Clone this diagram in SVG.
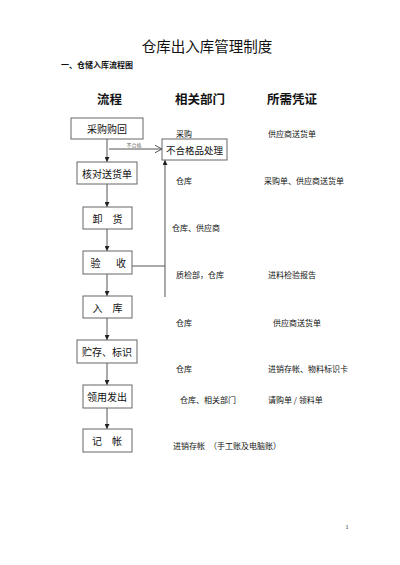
<svg xmlns="http://www.w3.org/2000/svg" width="400" height="565" viewBox="0 0 400 565">
<style>
text{font-family:"Noto Sans CJK SC","Noto Sans",sans-serif;fill:#111}
.box{fill:#fff;stroke:#666;stroke-width:1}
.bt{font-size:10px;text-anchor:middle;dominant-baseline:central}
.rt{font-size:8px;dominant-baseline:central}
.hd{font-size:12.5px;font-weight:bold}
.ln{stroke:#555;stroke-width:1;fill:none}
</style>
<defs>
<marker id="ah" viewBox="0 0 6 6" refX="6" refY="3" markerWidth="5" markerHeight="5" orient="auto" markerUnits="userSpaceOnUse">
<path d="M0,0 L6,3 L0,6 Z" fill="#222"/>
</marker>
<marker id="oa" viewBox="0 0 8 8" refX="7.5" refY="4" markerWidth="8" markerHeight="8" orient="auto" markerUnits="userSpaceOnUse">
<path d="M0,0 L7.5,4 L0,8" fill="none" stroke="#555" stroke-width="1"/>
</marker>
</defs>
<rect width="400" height="565" fill="#fff"/>
<text x="207" y="52" font-size="14.5" text-anchor="middle">仓库出入库管理制度</text>
<text x="61" y="68" font-size="8" font-weight="bold">一、仓储入库流程图</text>
<text class="hd" x="97" y="104">流程</text>
<text class="hd" x="175" y="104">相关部门</text>
<text class="hd" x="267" y="104">所需凭证</text>

<g id="connectors">
<line class="ln" x1="107" y1="139" x2="107" y2="162" marker-end="url(#ah)"/>
<line class="ln" x1="107" y1="184" x2="107" y2="207" marker-end="url(#ah)"/>
<line class="ln" x1="107" y1="229" x2="107" y2="251" marker-end="url(#ah)"/>
<line class="ln" x1="107" y1="274" x2="107" y2="296" marker-end="url(#ah)"/>
<line class="ln" x1="107" y1="318" x2="107" y2="340" marker-end="url(#ah)"/>
<line class="ln" x1="107" y1="363" x2="107" y2="385" marker-end="url(#ah)"/>
<line class="ln" x1="107" y1="408" x2="107" y2="429" marker-end="url(#ah)"/>
<line class="ln" x1="109" y1="149" x2="162" y2="149" marker-end="url(#oa)"/>
<text x="134" y="147" font-size="5" text-anchor="middle" fill="#666" style="fill:#666">不合格</text>
<polyline class="ln" points="132,266 165,266"/>
<line class="ln" x1="165" y1="297" x2="165" y2="160" marker-end="url(#ah)"/>
</g>

<g id="n1"><rect class="box" x="71" y="118" width="72" height="21"/><text class="bt" x="107" y="128.5">采购购回</text></g>
<g id="n2"><rect class="box" x="77" y="162" width="60" height="22"/><text class="bt" x="107" y="173">核对送货单</text></g>
<g id="n3"><rect class="box" x="83" y="207" width="49" height="22"/><text class="bt" x="107.5" y="218">卸　货</text></g>
<g id="n4"><rect class="box" x="83" y="251" width="49" height="23"/><text class="bt" x="107.5" y="262.5" letter-spacing="-1.5">验　　收</text></g>
<g id="n5"><rect class="box" x="83" y="296" width="49" height="22"/><text class="bt" x="107.5" y="307">入　库</text></g>
<g id="n6"><rect class="box" x="77" y="340" width="60" height="23"/><text class="bt" x="107" y="351.5">贮存、标识</text></g>
<g id="n7"><rect class="box" x="83" y="385" width="49" height="23"/><text class="bt" x="107" y="396.5">领用发出</text></g>
<g id="n8"><rect class="box" x="83" y="429" width="49" height="23"/><text class="bt" x="107" y="440.5">记　帐</text></g>
<g id="n9"><rect class="box" x="162" y="139" width="65" height="21"/><text class="bt" x="194.5" y="149.5" style="font-size:9.5px">不合格品处理</text></g>

<g id="labels">
<text class="rt" x="176" y="133">采购</text>
<text class="rt" x="268" y="133">供应商送货单</text>
<text class="rt" x="176" y="180">仓库</text>
<text class="rt" x="264" y="180">采购单、供应商送货单</text>
<text class="rt" x="172" y="227">仓库、供应商</text>
<text class="rt" x="176" y="274">质检部，仓库</text>
<text class="rt" x="268" y="274">进料检验报告</text>
<text class="rt" x="176" y="322">仓库</text>
<text class="rt" x="273" y="322">供应商送货单</text>
<text class="rt" x="176" y="368">仓库</text>
<text class="rt" x="268" y="368">进销存帐、物料标识卡</text>
<text class="rt" x="180" y="399">仓库、相关部门</text>
<text class="rt" x="268" y="399">请购单 / 领料单</text>
<text class="rt" x="173" y="445">进销存帐　（手工账及电脑账）</text>
</g>
<text x="347" y="529" font-size="6" text-anchor="middle" style="font-family:'Liberation Serif',serif">1</text>
</svg>
